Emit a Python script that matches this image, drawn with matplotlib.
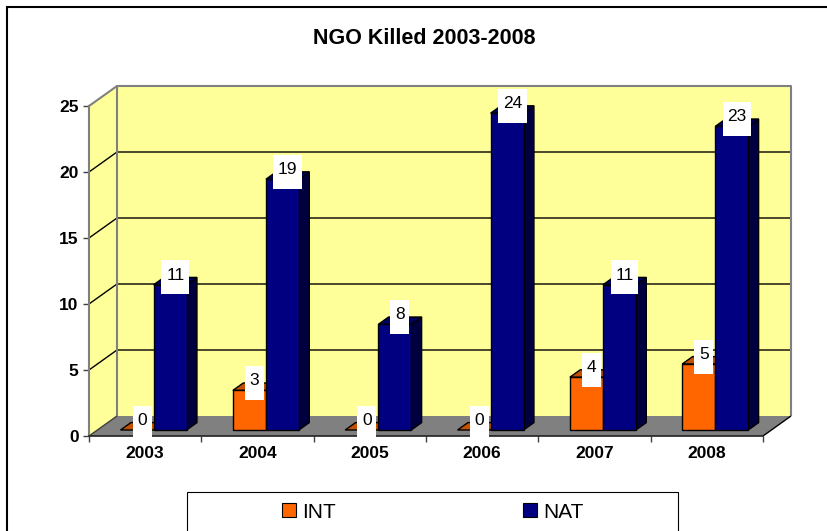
import matplotlib
matplotlib.use('Agg')
import matplotlib.pyplot as plt
from matplotlib.patches import Polygon, Rectangle
from matplotlib.path import Path

plt.rcParams['font.family'] = ['Liberation Sans', 'DejaVu Sans']

# ---- data ----
years = ['2003', '2004', '2005', '2006', '2007', '2008']
series_names = ['INT', 'NAT']
int_killed = [0, 3, 0, 0, 4, 5]
nat_killed = [11, 19, 8, 24, 11, 23]
y_ticks = [0, 5, 10, 15, 20, 25]
title = 'NGO Killed 2003-2008'

W, H = 827, 531
fig = plt.figure(figsize=(W / 100, H / 100), dpi=100)
fig.patch.set_facecolor('white')


def fx(px):
    return px / W


def fy(py):
    return 1 - py / H


n = len(years)
ymax = y_ticks[-1]
ax = fig.add_axes([fx(89), fy(436), (763 - 89) / W, (436 - 106) / H])
ax.set_xlim(0, n)
ax.set_ylim(0, ymax)
ax.patch.set_visible(False)

# oblique depth offset in data units
DX = 28 / (763 - 89) * n
DY = 20 / (436 - 106) * ymax


def P(x, y, z):
    return (x + z * DX, y + z * DY)


def poly(pts, fc, ec, lw=1.0, z=1):
    ax.add_patch(Polygon(pts, closed=True, facecolor=fc, edgecolor=ec, lw=lw,
                         zorder=z, clip_on=False, joinstyle='miter'))


def line(pts, color, lw=1.0, z=1.5):
    xs, ys = zip(*pts)
    ax.plot(xs, ys, color=color, lw=lw, zorder=z, clip_on=False,
            solid_capstyle='butt')


WALL = '#FFFF99'
FLOOR = '#808080'
EDGE = '#808080'

# walls and floor
poly([P(0, 0, 1), P(n, 0, 1), P(n, ymax, 1), P(0, ymax, 1)], WALL, 'none', z=1)
poly([P(0, 0, 0), P(0, 0, 1), P(0, ymax, 1), P(0, ymax, 0)], WALL, 'none', z=1)
poly([P(0, 0, 0), P(n, 0, 0), P(n, 0, 1), P(0, 0, 1)], FLOOR, 'none', z=1.1)

for v in y_ticks[1:-1]:
    line([P(0, v, 0), P(0, v, 1), P(n, v, 1)], 'black', lw=1.0, z=1.2)

line([P(0, ymax, 0), P(0, ymax, 1), P(n, ymax, 1), P(n, 0, 1)], EDGE, lw=1.5, z=1.3)
line([P(0, 0, 1), P(0, ymax, 1)], EDGE, lw=1.5, z=1.3)
line([P(0, 0, 0), P(0, 0, 1)], '#404040', lw=1.0, z=1.3)
line([P(n, 0, 0), P(n, 0, 1)], 'black', lw=1.0, z=1.3)

# spines and ticks
for s in ['top', 'right']:
    ax.spines[s].set_visible(False)
ax.spines['left'].set_color(EDGE)
ax.spines['left'].set_linewidth(1.5)
ax.spines['bottom'].set_color('#202020')
ax.spines['bottom'].set_linewidth(1.2)

ax.set_yticks(y_ticks)
ax.set_yticklabels([str(t) for t in y_ticks], fontsize=12.5, fontweight='bold')
ax.tick_params(axis='y', direction='out', length=4, width=1, color='#404040', pad=3.5)
ax.set_xticks(range(n + 1))
ax.set_xticklabels([''] * (n + 1))
ax.tick_params(axis='x', which='major', direction='out', length=4.3, width=1, color='#404040')
ax.set_xticks([i + 0.5 for i in range(n)], minor=True)
ax.set_xticklabels(years, minor=True, fontsize=12.5, fontweight='bold')
ax.tick_params(axis='x', which='minor', length=0, pad=7.5)

# bars
BW = 0.294
X0 = 0.206
Z0, Z1 = 0.3, 0.67
palette = [('#FF6600', '#C45000', '#8C3800'), ('#000080', '#000060', '#000040')]
values = [int_killed, nat_killed]

labels_pos = []
for i in range(n):
    for s in range(len(values)):
        v = values[s][i]
        x0 = i + X0 + s * BW
        x1 = x0 + BW
        front, top, side = palette[s]
        zo = 3 + i * 0.1 + s * 0.01
        poly([P(x1, 0, Z0), P(x1, 0, Z1), P(x1, v, Z1), P(x1, v, Z0)], side, 'black', lw=1.0, z=zo)
        poly([P(x0, v, Z0), P(x1, v, Z0), P(x1, v, Z1), P(x0, v, Z1)], top, 'black', lw=1.0, z=zo)
        if v > 0:
            poly([P(x0, 0, Z0), P(x1, 0, Z0), P(x1, v, Z0), P(x0, v, Z0)], front, 'black', lw=1.0, z=zo)
        labels_pos.append((P((x0 + x1) / 2, v, (Z0 + Z1) / 2), v))


def tallbox(x0, y0, width, height, mutation_size):
    px = 0.27 * mutation_size
    pt = 0.42 * mutation_size
    pb = 0.68 * mutation_size
    verts = [(x0 - px, y0 - pb), (x0 + width + px, y0 - pb),
             (x0 + width + px, y0 + height + pt), (x0 - px, y0 + height + pt),
             (x0 - px, y0 - pb)]
    return Path(verts, closed=True)


for (xy, v) in labels_pos:
    ax.annotate(str(v), xy=xy, xytext=(0, 4.3), textcoords='offset points',
                ha='center', va='center', fontsize=12.5, color='black',
                bbox=dict(boxstyle=tallbox, fc='white', ec='none'),
                zorder=10, annotation_clip=False)

# title
fig.text(fx(424.5), fy(44), title, ha='center', va='baseline',
         fontsize=15.5, fontweight='bold')

# outer border (chart area extends beyond the image)
fig.patches.append(Rectangle((fx(7), fy(700)), 2, (700 - 7) / H,
                             transform=fig.transFigure, fill=False,
                             ec='black', lw=1.5))

# legend
fig.patches.append(Rectangle((fx(187), fy(600)), (678 - 187) / W, (600 - 492) / H,
                             transform=fig.transFigure, fill=False,
                             ec='black', lw=0.8))
leg_x = [282, 523]
for s, name in enumerate(series_names):
    fig.patches.append(Rectangle((fx(leg_x[s]), fy(517)), 14 / W, 14 / H,
                                 transform=fig.transFigure,
                                 fc=palette[s][0], ec='black', lw=0.8))
    fig.text(fx(leg_x[s] + 20), fy(518), name, ha='left', va='baseline',
             fontsize=15)

fig.savefig('out.png', dpi=100)
